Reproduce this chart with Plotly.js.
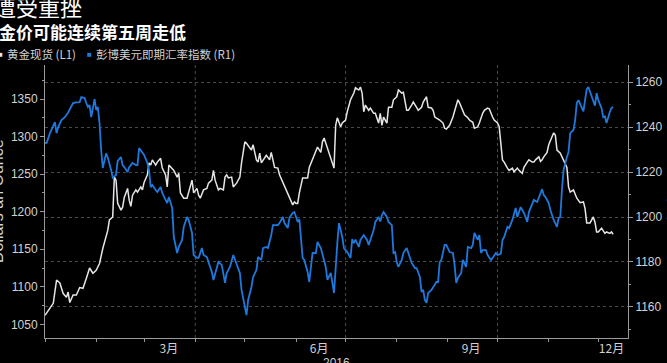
<!DOCTYPE html>
<html>
<head>
<meta charset="utf-8">
<script src="https://cdn.plot.ly/plotly-3.0.1.min.js"></script>
<style>
  html, body { margin: 0; padding: 0; background: #000; }
  #chart { width: 667px; height: 363px; }
</style>
</head>
<body>
<div id="chart"></div>
<script>
// ---- Gold spot (left axis, L1) ----
const goldDates = [
  '2016-01-01','2016-01-04','2016-01-06','2016-01-08','2016-01-10','2016-01-12','2016-01-14','2016-01-15','2016-01-16','2016-01-18','2016-01-20','2016-01-22','2016-01-24','2016-01-26','2016-01-28','2016-01-30',
  '2016-02-01','2016-02-03','2016-02-05','2016-02-08','2016-02-09','2016-02-11','2016-02-12','2016-02-13','2016-02-14','2016-02-16','2016-02-17','2016-02-18','2016-02-20','2016-02-21','2016-02-22','2016-02-23','2016-02-25','2016-02-26','2016-02-28','2016-02-29',
  '2016-03-01','2016-03-03','2016-03-04','2016-03-05','2016-03-06','2016-03-08','2016-03-09','2016-03-11','2016-03-12','2016-03-14','2016-03-15','2016-03-16','2016-03-18','2016-03-19','2016-03-21','2016-03-22','2016-03-23','2016-03-25','2016-03-27','2016-03-28','2016-03-30','2016-03-31',
  '2016-04-01','2016-04-02','2016-04-03','2016-04-04','2016-04-06','2016-04-08','2016-04-09','2016-04-11','2016-04-12','2016-04-13','2016-04-15','2016-04-16','2016-04-18','2016-04-19','2016-04-20','2016-04-21','2016-04-23','2016-04-24','2016-04-26','2016-04-28','2016-04-29',
  '2016-05-01','2016-05-02','2016-05-04','2016-05-05','2016-05-06','2016-05-08','2016-05-09','2016-05-10','2016-05-11','2016-05-13','2016-05-14','2016-05-16','2016-05-17','2016-05-19','2016-05-21','2016-05-22','2016-05-24','2016-05-25','2016-05-27','2016-05-28','2016-05-30','2016-05-31',
  '2016-06-01','2016-06-02','2016-06-03','2016-06-05','2016-06-08','2016-06-09','2016-06-11','2016-06-13','2016-06-14','2016-06-16','2016-06-17','2016-06-18','2016-06-19','2016-06-20','2016-06-22','2016-06-23','2016-06-24','2016-06-25','2016-06-26','2016-06-28','2016-06-29',
  '2016-07-01','2016-07-02','2016-07-04','2016-07-06','2016-07-07','2016-07-09','2016-07-10','2016-07-11','2016-07-12','2016-07-13','2016-07-15','2016-07-16','2016-07-18','2016-07-19','2016-07-21','2016-07-22','2016-07-23','2016-07-24','2016-07-26','2016-07-27','2016-07-29','2016-07-30',
  '2016-08-01','2016-08-02','2016-08-04','2016-08-05','2016-08-07','2016-08-08','2016-08-10','2016-08-11','2016-08-13','2016-08-14','2016-08-16','2016-08-17','2016-08-19','2016-08-20','2016-08-22','2016-08-23','2016-08-24','2016-08-25','2016-08-27','2016-08-29','2016-08-30','2016-08-31',
  '2016-09-02','2016-09-04','2016-09-05','2016-09-07','2016-09-08','2016-09-10','2016-09-11','2016-09-13','2016-09-14','2016-09-16','2016-09-17','2016-09-19','2016-09-20','2016-09-22','2016-09-23','2016-09-25','2016-09-26','2016-09-28','2016-09-29',
  '2016-10-01','2016-10-02','2016-10-04','2016-10-05','2016-10-07','2016-10-08','2016-10-10','2016-10-11','2016-10-13','2016-10-14','2016-10-16','2016-10-17','2016-10-19','2016-10-20','2016-10-22','2016-10-23','2016-10-24','2016-10-26','2016-10-27','2016-10-28','2016-10-29','2016-10-31',
  '2016-11-01','2016-11-03','2016-11-04','2016-11-05','2016-11-06','2016-11-08','2016-11-10','2016-11-12','2016-11-13','2016-11-14','2016-11-16','2016-11-17','2016-11-18','2016-11-20','2016-11-22','2016-11-23','2016-11-24','2016-11-26','2016-11-28','2016-11-29','2016-11-30',
  '2016-12-01','2016-12-03','2016-12-05','2016-12-06','2016-12-08','2016-12-09','2016-12-10'
];
const goldValues = [
  1062,1071,1078,1109,1105,1091,1086,1093,1079,1089,1089,1099,1098,1111,1125,1118,
  1122,1131,1151,1175,1189,1193,1246,1242,1211,1202,1206,1219,1231,1215,1207,1222,1229,1226,1233,1229,
  1239,1249,1265,1262,1269,1262,1266,1271,1258,1249,1233,1262,1258,1255,1246,1251,1225,1218,1218,1225,1242,1225,
  1229,1231,1222,1218,1229,1231,1238,1242,1255,1242,1229,1231,1229,1246,1249,1245,1246,1233,1238,1246,1265,
  1293,1291,1286,1282,1289,1269,1266,1278,1265,1273,1275,1269,1279,1259,1258,1249,1239,1233,1225,1219,1209,1213,
  1211,1211,1225,1245,1245,1259,1269,1279,1286,1279,1293,1298,1291,1285,1269,1265,1258,1315,1325,1313,1318,
  1322,1333,1349,1358,1365,1362,1366,1358,1333,1342,1335,1338,1331,1331,1318,1331,1315,1326,1318,1339,1339,1349,
  1353,1362,1358,1359,1335,1335,1342,1346,1339,1335,1339,1346,1353,1339,1338,1335,1326,1325,1322,1318,1311,1310,
  1315,1326,1335,1349,1345,1335,1329,1325,1322,1319,1311,1313,1318,1331,1335,1338,1337,1326,1322,
  1318,1313,1269,1266,1258,1255,1258,1253,1258,1255,1251,1259,1266,1269,1266,1266,1269,1273,1267,1269,1273,1279,
  1289,1299,1305,1302,1282,1278,1269,1259,1233,1226,1229,1222,1218,1212,1213,1204,1185,1185,1193,1186,1173,
  1173,1178,1171,1173,1171,1173,1170
];

// ---- Bloomberg Dollar Spot Index (right axis, R1) ----
const dollarDates = [
  '2016-01-01','2016-01-02','2016-01-04','2016-01-06','2016-01-07','2016-01-08','2016-01-09','2016-01-11','2016-01-13','2016-01-15','2016-01-17','2016-01-18','2016-01-20','2016-01-22','2016-01-23','2016-01-25','2016-01-26','2016-01-27','2016-01-28','2016-01-29','2016-01-31',
  '2016-02-01','2016-02-02','2016-02-03','2016-02-04','2016-02-05','2016-02-07','2016-02-08','2016-02-10','2016-02-11','2016-02-13','2016-02-14','2016-02-16','2016-02-17','2016-02-18','2016-02-20','2016-02-21','2016-02-23','2016-02-25','2016-02-26','2016-02-27','2016-02-29',
  '2016-03-01','2016-03-03','2016-03-04','2016-03-05','2016-03-06','2016-03-08','2016-03-09','2016-03-11','2016-03-12','2016-03-14','2016-03-15','2016-03-16','2016-03-18','2016-03-19','2016-03-21','2016-03-22','2016-03-24','2016-03-25','2016-03-27','2016-03-28','2016-03-30','2016-03-31',
  '2016-04-02','2016-04-03','2016-04-05','2016-04-06','2016-04-08','2016-04-09','2016-04-11','2016-04-12','2016-04-14','2016-04-15','2016-04-17','2016-04-18','2016-04-19','2016-04-20','2016-04-22','2016-04-24','2016-04-25','2016-04-26','2016-04-28','2016-04-29',
  '2016-05-01','2016-05-02','2016-05-03','2016-05-05','2016-05-06','2016-05-08','2016-05-09','2016-05-11','2016-05-12','2016-05-14','2016-05-15','2016-05-17','2016-05-18','2016-05-21','2016-05-22','2016-05-24','2016-05-25','2016-05-27','2016-05-28','2016-05-30','2016-05-31',
  '2016-06-01','2016-06-02','2016-06-03','2016-06-05','2016-06-06','2016-06-08','2016-06-09','2016-06-10','2016-06-11','2016-06-13','2016-06-14','2016-06-16','2016-06-17','2016-06-19','2016-06-20','2016-06-22','2016-06-23','2016-06-24','2016-06-26','2016-06-27','2016-06-29','2016-06-30',
  '2016-07-02','2016-07-04','2016-07-05','2016-07-06','2016-07-07','2016-07-09','2016-07-10','2016-07-11','2016-07-12','2016-07-14','2016-07-15','2016-07-17','2016-07-18','2016-07-19','2016-07-21','2016-07-22','2016-07-23','2016-07-24','2016-07-26','2016-07-27','2016-07-29','2016-07-30','2016-07-31',
  '2016-08-01','2016-08-02','2016-08-04','2016-08-05','2016-08-07','2016-08-08','2016-08-10','2016-08-12','2016-08-13','2016-08-15','2016-08-16','2016-08-17','2016-08-18','2016-08-19','2016-08-20','2016-08-22','2016-08-23','2016-08-25','2016-08-26','2016-08-27','2016-08-28','2016-08-30','2016-08-31',
  '2016-09-02','2016-09-04','2016-09-05','2016-09-06','2016-09-07','2016-09-09','2016-09-10','2016-09-12','2016-09-13','2016-09-15','2016-09-16','2016-09-17','2016-09-19','2016-09-20','2016-09-21','2016-09-22','2016-09-24','2016-09-25','2016-09-27','2016-09-28','2016-09-30',
  '2016-10-01','2016-10-03','2016-10-04','2016-10-05','2016-10-07','2016-10-08','2016-10-10','2016-10-11','2016-10-12','2016-10-13','2016-10-15','2016-10-17','2016-10-18','2016-10-19','2016-10-20','2016-10-22','2016-10-23','2016-10-25','2016-10-26','2016-10-28','2016-10-29','2016-10-30',
  '2016-11-01','2016-11-02','2016-11-04','2016-11-06','2016-11-07','2016-11-08','2016-11-09','2016-11-10','2016-11-12','2016-11-13','2016-11-14','2016-11-16','2016-11-17','2016-11-18','2016-11-19','2016-11-21','2016-11-22','2016-11-23','2016-11-24','2016-11-25','2016-11-27','2016-11-29','2016-11-30',
  '2016-12-01','2016-12-03','2016-12-04','2016-12-05','2016-12-06','2016-12-08','2016-12-09','2016-12-10'
];
const dollarValues = [
  1232.9,1233,1237.3,1241,1242.2,1237.3,1240,1243.1,1244.4,1246.5,1248.9,1250.7,1251,1251.1,1253.3,1252.9,1250.7,1248.9,1249.8,1244.4,1252.4,
  1247.6,1248.9,1241.8,1230,1221.8,1228.3,1226.5,1221,1217.5,1218.7,1225,1226.7,1223.1,1222.2,1220,1222.2,1224,1223.1,1223.1,1230.7,1228.9,
  1227.6,1224,1220.9,1213.3,1214.2,1212,1211.1,1213.3,1210.7,1207.6,1206.2,1208.9,1204,1191.1,1184,1186.7,1189.8,1195.6,1200,1198.7,1192.9,1183.1,
  1181.8,1181.8,1186.2,1183.1,1182.2,1180,1175.6,1172,1177.8,1180,1178.7,1175.1,1170.7,1175.1,1177.8,1183.1,1180.9,1179.6,1175.1,1167.6,
  1160,1156.4,1163.1,1168.9,1173.3,1176.4,1182.2,1180.9,1186.2,1186.7,1186.2,1192,1196.4,1196.4,1197.3,1200,1197.3,1195.1,1199.6,1201.8,1202.2,
  1200,1197.8,1199,1181.8,1180.9,1175.6,1171.1,1177.8,1184,1184,1188.9,1186.2,1183.1,1177.8,1172,1175.1,1170.7,1166.2,1188.4,1197.3,1191.1,1186.2,
  1184.4,1181.8,1190.2,1188.4,1190,1186.7,1189.8,1191.1,1192,1189.8,1187.6,1192,1194.2,1197.8,1200,1198,1200.9,1202.2,1200,1197.8,1196.4,1184,1184.4,
  1180,1177.8,1180.9,1184,1186.2,1184,1179.6,1177.3,1177.3,1173.3,1166.7,1167.6,1163.1,1161.8,1166.2,1167.6,1168.9,1171.1,1171.1,1180,1180.9,1187.6,1187.6,
  1184.4,1184,1178.7,1170.7,1172.9,1175.1,1180.9,1177.8,1186.7,1186.2,1187.6,1192.9,1189.8,1192,1184,1185.3,1185.3,1183.1,1180.9,1181.8,1184,
  1183.1,1183.6,1189.8,1191.1,1195.6,1195.1,1198.7,1201.8,1204,1200,1204.4,1201.8,1200,1197.8,1202.2,1205.3,1207.6,1206.7,1208.9,1212.4,1209.8,1208.9,
  1206.2,1203.1,1198.7,1195.6,1199.6,1200,1212,1220.9,1226.7,1228.9,1237.3,1238.7,1243.1,1250.7,1252,1248.4,1247,1252,1256.8,1257.8,1253.8,1249.5,1255.1,
  1252,1248.4,1244.4,1244.8,1241.8,1246.7,1248.4,1248.9
];

// ---- axis labels / ticks ----
const monthLabelDates = ['2016-03-16','2016-06-15','2016-09-15','2016-12-09'];
const monthLabels = ['3月','6月','9月','12月'];
const quarterGridDates = ['2016-04-01','2016-07-01','2016-10-01'];
const xRange = ['2016-01-01','2016-12-19'];
const leftRange = [1031.8, 1395.3];
const rightRange = [1146.2, 1267.6];

const titleLine1 = '遭受重挫';
const titleLine2 = '金价可能连续第五周走低';
const legendGold = '黄金现货 (L1)';
const legendDollar = '彭博美元即期汇率指数 (R1)';
const leftAxisTitle = 'Dollars an Ounce';
const rightAxisTitle = 'Index';
const yearLabel = '2016';

const GOLD_COLOR = '#e6e6e6';
const DOLLAR_COLOR = '#1f78dc';
const AXIS_COLOR = '#9a9a9a';
const TEXT_COLOR = '#d2d2d2';
const CJK = '"Noto Sans CJK SC", "Noto Sans", sans-serif';
const LATIN = '"Liberation Sans", Arial, sans-serif';

const traces = [
  { x: goldDates, y: goldValues, type: 'scatter', mode: 'lines', yaxis: 'y',
    line: { color: GOLD_COLOR, width: 1.5 }, hoverinfo: 'skip' },
  { x: dollarDates, y: dollarValues, type: 'scatter', mode: 'lines', yaxis: 'y2',
    line: { color: DOLLAR_COLOR, width: 1.8 }, hoverinfo: 'skip' }
];

const PLOT_L = 45;
function px(xPixel) { return xPixel - PLOT_L; }

const layout = {
  width: 667, height: 363,
  margin: { l: 45, r: 39, t: 65, b: 25, pad: 0 },
  paper_bgcolor: '#000', plot_bgcolor: '#000',
  showlegend: false,
  font: { family: LATIN, color: TEXT_COLOR, size: 12 },
  xaxis: {
    type: 'date', range: xRange,
    tickmode: 'array', tickvals: monthLabelDates, ticktext: monthLabels,
    ticks: '', showgrid: false, zeroline: false,
    showline: true, linecolor: AXIS_COLOR, linewidth: 1,
    tickfont: { family: CJK, size: 12, color: TEXT_COLOR },
    minor: { tickmode: 'linear', tick0: '2016-01-01', dtick: 'M1', ticks: 'outside',
             ticklen: 3, tickcolor: AXIS_COLOR, showgrid: false },
    fixedrange: true
  },
  yaxis: {
    range: leftRange, tick0: 1050, dtick: 50,
    ticks: 'outside', ticklen: 4, tickcolor: AXIS_COLOR,
    showline: true, linecolor: AXIS_COLOR, linewidth: 1,
    showgrid: false, zeroline: false,
    minor: { dtick: 25, ticks: 'outside', ticklen: 2, tickcolor: AXIS_COLOR, showgrid: false },
    tickfont: { size: 12, color: TEXT_COLOR },
    fixedrange: true
  },
  yaxis2: {
    overlaying: 'y', side: 'right', anchor: 'x',
    range: rightRange, tick0: 1160, dtick: 20,
    ticks: 'outside', ticklen: 4, tickcolor: AXIS_COLOR,
    showline: true, linecolor: AXIS_COLOR, linewidth: 1,
    showgrid: true, gridcolor: '#4a4a4a', gridwidth: 1, griddash: 'dot',
    zeroline: false,
    minor: { dtick: 10, ticks: 'outside', ticklen: 2, tickcolor: AXIS_COLOR, showgrid: false },
    tickfont: { size: 12, color: TEXT_COLOR },
    fixedrange: true
  },
  shapes: quarterGridDates.map(d => ({
    type: 'line', xref: 'x', yref: 'paper', x0: d, x1: d, y0: 0, y1: 1,
    line: { color: '#4a4a4a', width: 1, dash: 'dot' }, layer: 'below'
  })),
  annotations: [
    { text: titleLine1, xref: 'paper', yref: 'paper', x: 0, y: 1, xanchor: 'left', yanchor: 'middle',
      xshift: px(-8), yshift: 65 - 6, showarrow: false,
      font: { family: CJK, size: 22, color: '#ffffff' } },
    { text: '<b>' + titleLine2 + '</b>', xref: 'paper', yref: 'paper', x: 0, y: 1, xanchor: 'left', yanchor: 'middle',
      xshift: px(-3), yshift: 65 - 31, showarrow: false,
      font: { family: CJK, size: 17, color: '#ffffff' } },
    { text: '■', xref: 'paper', yref: 'paper', x: 0, y: 1, xanchor: 'left', yanchor: 'middle',
      xshift: px(-4), yshift: 65 - 54, showarrow: false,
      font: { family: LATIN, size: 8, color: GOLD_COLOR } },
    { text: legendGold, xref: 'paper', yref: 'paper', x: 0, y: 1, xanchor: 'left', yanchor: 'middle',
      xshift: px(5), yshift: 65 - 54, showarrow: false,
      font: { family: CJK, size: 11.5, color: TEXT_COLOR } },
    { text: '■', xref: 'paper', yref: 'paper', x: 0, y: 1, xanchor: 'left', yanchor: 'middle',
      xshift: px(85), yshift: 65 - 54, showarrow: false,
      font: { family: LATIN, size: 8, color: DOLLAR_COLOR } },
    { text: legendDollar, xref: 'paper', yref: 'paper', x: 0, y: 1, xanchor: 'left', yanchor: 'middle',
      xshift: px(94), yshift: 65 - 54, showarrow: false,
      font: { family: CJK, size: 11.5, color: TEXT_COLOR } },
    { text: leftAxisTitle, xref: 'paper', yref: 'paper', x: 0, y: 0.5, xanchor: 'center', yanchor: 'middle',
      xshift: px(-2.5), textangle: -90, showarrow: false,
      font: { family: LATIN, size: 16, color: TEXT_COLOR } },
    { text: rightAxisTitle, xref: 'paper', yref: 'paper', x: 1, y: 0.5, xanchor: 'center', yanchor: 'middle',
      xshift: 673 - 628, textangle: -90, showarrow: false,
      font: { family: LATIN, size: 16, color: TEXT_COLOR } },
    { text: yearLabel, xref: 'paper', yref: 'paper', x: 0.5, y: 0, xanchor: 'center', yanchor: 'top',
      yshift: -(354 - 338), showarrow: false,
      font: { family: LATIN, size: 12, color: TEXT_COLOR } }
  ]
};

Plotly.newPlot('chart', traces, layout, { staticPlot: true, displayModeBar: false });
</script>
</body>
</html>
